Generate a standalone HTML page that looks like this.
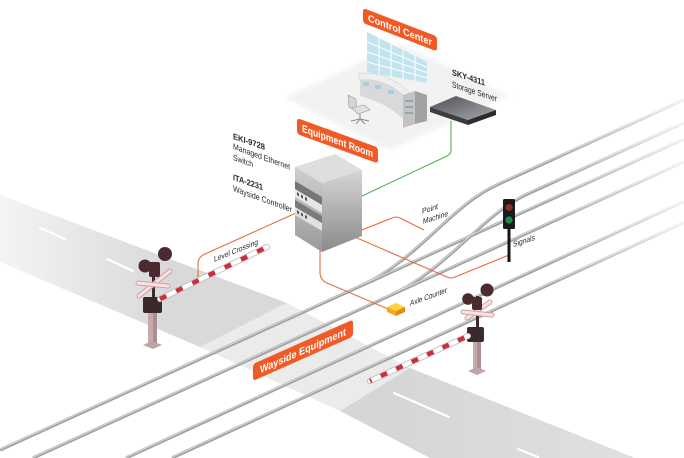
<!DOCTYPE html>
<html><head><meta charset="utf-8"><style>
html,body{margin:0;padding:0;background:#fff;width:684px;height:458px;overflow:hidden;}
svg{display:block;}
text{font-family:"Liberation Sans",Arial,sans-serif;}
</style></head><body>
<svg width="684" height="458" viewBox="0 0 684 458" xmlns="http://www.w3.org/2000/svg" overflow="hidden">
<defs>
 <linearGradient id="roadL" gradientUnits="userSpaceOnUse" x1="0" y1="0" x2="170" y2="0">
  <stop offset="0" stop-color="#f4f4f4"/><stop offset="1" stop-color="#d9d9d9"/>
 </linearGradient>
 <linearGradient id="roadR" gradientUnits="userSpaceOnUse" x1="400" y1="0" x2="684" y2="0">
  <stop offset="0" stop-color="#d6d6d6"/><stop offset="1" stop-color="#e2e2e2"/>
 </linearGradient>
 <linearGradient id="fadeG" gradientUnits="userSpaceOnUse" x1="0" y1="0" x2="684" y2="0">
  <stop offset="0" stop-color="#fff"/><stop offset="0.8" stop-color="#fff"/><stop offset="1" stop-color="#2a2a2a"/>
 </linearGradient>
 <mask id="fadeM" maskUnits="userSpaceOnUse" x="0" y="0" width="684" height="458">
  <rect x="0" y="0" width="684" height="458" fill="url(#fadeG)"/>
 </mask>
 <linearGradient id="boxL" x1="0" y1="0" x2="0" y2="1">
  <stop offset="0" stop-color="#cfcfcf"/><stop offset="1" stop-color="#9a9a9a"/>
 </linearGradient>
 <linearGradient id="boxR" x1="0" y1="0" x2="0" y2="1">
  <stop offset="0" stop-color="#d6d6d6"/><stop offset="1" stop-color="#8a8a8a"/>
 </linearGradient>
 <linearGradient id="srv" x1="0" y1="0" x2="1" y2="1">
  <stop offset="0" stop-color="#4e4e55"/><stop offset="1" stop-color="#a9a9b0"/>
 </linearGradient>
 <filter id="soft" x="-20%" y="-20%" width="140%" height="140%"><feGaussianBlur stdDeviation="2.5"/></filter>
</defs>

<rect width="684" height="458" fill="#fff"/>

<!-- roads -->
<polygon points="0,195 287,303 200,347 0,262" fill="url(#roadL)"/>
<polygon points="287,303 410,368 340,411 200,347" fill="#ebebeb"/>
<polygon points="410,368 635,458 430,458 340,411" fill="url(#roadR)"/>
<!-- road dashes -->
<g stroke="#ffffff" stroke-width="2.2" stroke-linecap="round">
 <line x1="40" y1="228" x2="65" y2="239"/>
 <line x1="107" y1="259" x2="133" y2="271"/>
 <line x1="394" y1="393" x2="449" y2="417"/>
 <line x1="518" y1="449" x2="538" y2="457"/>
</g>

<!-- control center floor -->
<polygon points="285,98 400,44 508,96 390,150" fill="#f2f2f2" filter="url(#soft)"/>

<!-- rails -->
<g mask="url(#fadeM)" fill="none" stroke-linecap="butt">
 <g stroke="#a2a2a2" stroke-width="3.2">
  <path d="M0,450 L684,139"/>
  <path d="M33,458 L684,161.8"/>
  <path d="M126,458 L684,201.4"/>
  <path d="M172,458 L684,222.4"/>
  <path d="M360,286.2 C420,258.9 450,205 500,183.5 L684,99.8"/>
  <path d="M390,295.5 C450,268 480,215 530,192.9 L684,122.8"/>
 </g>
 <g stroke="#d8d8d8" stroke-width="1" transform="translate(0,-0.7)">
  <path d="M0,450 L684,139"/>
  <path d="M33,458 L684,161.8"/>
  <path d="M126,458 L684,201.4"/>
  <path d="M172,458 L684,222.4"/>
  <path d="M360,286.2 C420,258.9 450,205 500,183.5 L684,99.8"/>
  <path d="M390,295.5 C450,268 480,215 530,192.9 L684,122.8"/>
 </g>
</g>

<!-- video wall -->
<polygon points="367,32 427,62 427,83 367,72" fill="#c3e4ed"/>
<g stroke="#ffffff" stroke-width="1">
 <line x1="379" y1="38" x2="379" y2="74.2"/>
 <line x1="391" y1="44" x2="391" y2="76.4"/>
 <line x1="403" y1="50" x2="403" y2="78.7"/>
 <line x1="415" y1="56" x2="415" y2="80.9"/>
 <line x1="367" y1="42" x2="427" y2="67.3"/>
 <line x1="367" y1="52" x2="427" y2="72.6"/>
 <line x1="367" y1="62" x2="427" y2="77.8"/>
</g>
<!-- desk -->
<path d="M358,74 C375,70 395,78 412,95 L407,99 C393,84 376,78 360,80 Z" fill="#efefef" stroke="#c8c8c8" stroke-width="0.5"/>
<path d="M360,80 C376,78 393,84 407,99 L407,123 C393,108 376,100 360,96 Z" fill="#d9d9d9"/>
<g fill="#a8cde0">
 <rect x="363" y="82" width="6" height="4"/>
 <rect x="375" y="85" width="6" height="4"/>
 <rect x="388" y="90" width="6" height="4"/>
</g>
<!-- tower -->
<polygon points="403,95 415,91 415,124 403,128" fill="#c2c2c2"/>
<polygon points="415,91 427,95 427,121 415,124" fill="#a2a2a2"/>
<g fill="#8fa8b8"><rect x="405" y="100" width="8" height="2"/><rect x="405" y="106" width="8" height="2"/><rect x="405" y="112" width="8" height="2"/></g>
<!-- chair -->
<polygon points="348,95 356,99 357,111 349,107" fill="#d4d4d4" stroke="#9a9a9a" stroke-width="0.6"/>
<polygon points="352,108 364,105 370,110 358,114" fill="#e0e0e0" stroke="#9a9a9a" stroke-width="0.6"/>
<g stroke="#8a8a8a" stroke-width="1">
 <line x1="360" y1="114" x2="360" y2="119"/>
 <line x1="360" y1="119" x2="351" y2="121"/>
 <line x1="360" y1="119" x2="369" y2="121"/>
 <line x1="360" y1="119" x2="356" y2="124"/>
 <line x1="360" y1="119" x2="365" y2="124"/>
</g>

<!-- storage server -->
<polygon points="430,107 456,96 496,110 468,120" fill="url(#srv)"/>
<polygon points="430,107 468,120 468,125 430,112" fill="#3c3c42"/>
<polygon points="468,120 496,110 496,115 468,125" fill="#2c2c31"/>

<!-- connectors -->
<path d="M451,121 L451,150 Q451,154 447,156 L362,196" fill="none" stroke="#52b155" stroke-width="1.1"/>
<g fill="none" stroke="#ea6a3c" stroke-width="1.1">
 <path d="M296,213 L205,254 Q198,257 198,264 L198,277"/>
 <path d="M320,250 L320,272 Q320,280 327,283 L388,309"/>
 <path d="M362,230 L392,218 Q396,216 400,218 L424,230"/>
 <path d="M357,238 L447,277 Q451,279 455,277 L509,255"/>
</g>

<!-- equipment box -->
<polygon points="295,167 335,154 362,170 322,183" fill="#dedede"/>
<polygon points="295,167 322,183 322,252 295,235" fill="url(#boxL)"/>
<polygon points="322,183 362,170 362,236 322,252" fill="url(#boxR)"/>
<g transform="translate(295,167) skewY(30.6)">
 <rect x="0" y="14" width="27" height="9" fill="#767676"/>
 <rect x="0" y="22" width="27" height="8" fill="#e6e6e6"/>
 <rect x="2" y="24" width="2" height="3" fill="#555"/><rect x="6" y="24" width="2" height="3" fill="#555"/><rect x="10" y="24" width="2" height="3" fill="#555"/>
 <rect x="0" y="33" width="27" height="8" fill="#7a7a7a"/>
 <rect x="0" y="40" width="27" height="8" fill="#e1e1e1"/>
 <rect x="2" y="42" width="2" height="3" fill="#555"/><rect x="6" y="42" width="2" height="3" fill="#555"/><rect x="10" y="42" width="2" height="3" fill="#555"/>
</g>

<!-- axle counter -->
<polygon points="387,307 396,303 405,307 396,311" fill="#ffd33d"/>
<polygon points="387,307 396,311 396,316 387,312" fill="#f7a51c"/>
<polygon points="396,311 405,307 405,312 396,316" fill="#e8880f"/>

<!-- signal -->
<rect x="507.5" y="228" width="3" height="34" fill="#151515"/>
<rect x="503" y="199" width="12" height="30" rx="1.5" fill="#1b1b1b"/>
<circle cx="509" cy="207.5" r="3.6" fill="#8e2d2d"/>
<circle cx="509" cy="220" r="3.6" fill="#1e8a4c"/>

<!-- left crossing -->
<rect x="148" y="308" width="9" height="37" fill="#c6aaaa"/>
<rect x="153" y="308" width="4" height="37" fill="#a98f8f"/>
<polygon points="143,345 152,341 162,345 153,349" fill="#bea4a4"/>
<rect x="152" y="262" width="3" height="36" fill="#3d2a2c"/>
<g stroke-linecap="round">
 <line x1="139" y1="296" x2="170" y2="271" stroke="#d2a1a1" stroke-width="5"/>
 <line x1="139" y1="296" x2="170" y2="271" stroke="#f6e3e3" stroke-width="3"/>
 <line x1="138" y1="283" x2="168" y2="286" stroke="#d2a1a1" stroke-width="5"/>
 <line x1="138" y1="283" x2="168" y2="286" stroke="#f6e3e3" stroke-width="3"/>
</g>
<rect x="143" y="297" width="19" height="16" rx="2" fill="#3b2a2b"/>
<circle cx="145" cy="266" r="6.5" fill="#4b2b30"/>
<circle cx="165" cy="254" r="7" fill="#4b2b30"/>
<rect x="149" y="262" width="11" height="15" rx="2" fill="#4b2b30"/>
<g stroke-linecap="round">
 <line x1="160" y1="299" x2="267" y2="247" stroke="#b9b9b9" stroke-width="6"/>
 <line x1="160" y1="299" x2="267" y2="247" stroke="#ffffff" stroke-width="4.4"/>
 <line x1="160" y1="299" x2="267" y2="247" stroke="#cf2c37" stroke-width="4.4" stroke-dasharray="7 11" stroke-linecap="butt"/>
</g>

<!-- right crossing -->
<rect x="473" y="338" width="8" height="32" fill="#c6aaaa"/>
<rect x="477" y="338" width="4" height="32" fill="#a98f8f"/>
<polygon points="468,371 477,367 486,371 477,375" fill="#bea4a4"/>
<rect x="476" y="296" width="3" height="32" fill="#3d2a2c"/>
<g stroke-linecap="round">
 <line x1="467" y1="318" x2="490" y2="302" stroke="#d2a1a1" stroke-width="5"/>
 <line x1="467" y1="318" x2="490" y2="302" stroke="#f6e3e3" stroke-width="3"/>
 <line x1="463" y1="312" x2="492" y2="315" stroke="#d2a1a1" stroke-width="5"/>
 <line x1="463" y1="312" x2="492" y2="315" stroke="#f6e3e3" stroke-width="3"/>
</g>
<rect x="467" y="327" width="17" height="15" rx="2" fill="#3b2a2b"/>
<circle cx="468" cy="299" r="5.8" fill="#4b2b30"/>
<circle cx="487" cy="290" r="6.5" fill="#4b2b30"/>
<rect x="472" y="297" width="10" height="13" rx="2" fill="#4b2b30"/>
<g stroke-linecap="round">
 <line x1="468" y1="336" x2="370" y2="381" stroke="#b9b9b9" stroke-width="6"/>
 <line x1="468" y1="336" x2="370" y2="381" stroke="#ffffff" stroke-width="4.4"/>
 <line x1="468" y1="336" x2="370" y2="381" stroke="#cf2c37" stroke-width="4.4" stroke-dasharray="7 10" stroke-dashoffset="-4" stroke-linecap="butt"/>
</g>

<!-- banners -->
<g transform="translate(363,8) skewY(21)">
 <rect x="0" y="0" width="74" height="15" rx="3" fill="#f15a24"/>
 <text x="5" y="11.2" font-size="10" font-weight="bold" fill="#fff" textLength="64" lengthAdjust="spacingAndGlyphs">Control Center</text>
</g>
<g transform="translate(297,118) skewY(20)">
 <rect x="0" y="0" width="81" height="16" rx="3" fill="#f15a24"/>
 <text x="5" y="11.8" font-size="10.5" font-weight="bold" fill="#fff" textLength="71" lengthAdjust="spacingAndGlyphs">Equipment Room</text>
</g>
<g transform="translate(253,364) skewY(-24)">
 <rect x="0" y="0" width="100" height="17" rx="3" fill="#f15a24"/>
 <text x="7" y="12.4" font-size="10.5" font-weight="bold" fill="#fff" textLength="86" lengthAdjust="spacingAndGlyphs">Wayside Equipment</text>
</g>

<!-- labels -->
<g fill="#2a2a2a">
 <g transform="translate(452,75) skewY(18)"><text font-size="8.5" font-weight="bold" textLength="33" lengthAdjust="spacingAndGlyphs">SKY-4311</text></g>
 <g transform="translate(452,87) skewY(18)"><text font-size="8.5" textLength="45" lengthAdjust="spacingAndGlyphs">Storage Server</text></g>
 <g transform="translate(233,139) skewY(19)"><text font-size="8.5" font-weight="bold" textLength="32" lengthAdjust="spacingAndGlyphs">EKI-9728</text></g>
 <g transform="translate(233,149) skewY(20)"><text font-size="8.5" textLength="57" lengthAdjust="spacingAndGlyphs">Managed Ethernet</text></g>
 <g transform="translate(233,160) skewY(20)"><text font-size="8.5" textLength="20" lengthAdjust="spacingAndGlyphs">Switch</text></g>
 <g transform="translate(233,180) skewY(19)"><text font-size="8.5" font-weight="bold" textLength="30" lengthAdjust="spacingAndGlyphs">ITA-2231</text></g>
 <g transform="translate(233,191) skewY(20)"><text font-size="8.5" textLength="59" lengthAdjust="spacingAndGlyphs">Wayside Controller</text></g>
 <g transform="translate(214,262) skewY(-22)"><text font-size="8" textLength="44" lengthAdjust="spacingAndGlyphs">Level Crossing</text></g>
 <g transform="translate(422,214) skewY(-18)"><text font-size="8" textLength="16" lengthAdjust="spacingAndGlyphs">Point</text></g>
 <g transform="translate(423,224) skewY(-18)"><text font-size="8" textLength="25" lengthAdjust="spacingAndGlyphs">Machine</text></g>
 <g transform="translate(410,306) skewY(-20)"><text font-size="8" textLength="37" lengthAdjust="spacingAndGlyphs">Axle Counter</text></g>
 <g transform="translate(513,247) skewY(-18)"><text font-size="8" textLength="22" lengthAdjust="spacingAndGlyphs">Signals</text></g>
</g>
</svg>
</body></html>
